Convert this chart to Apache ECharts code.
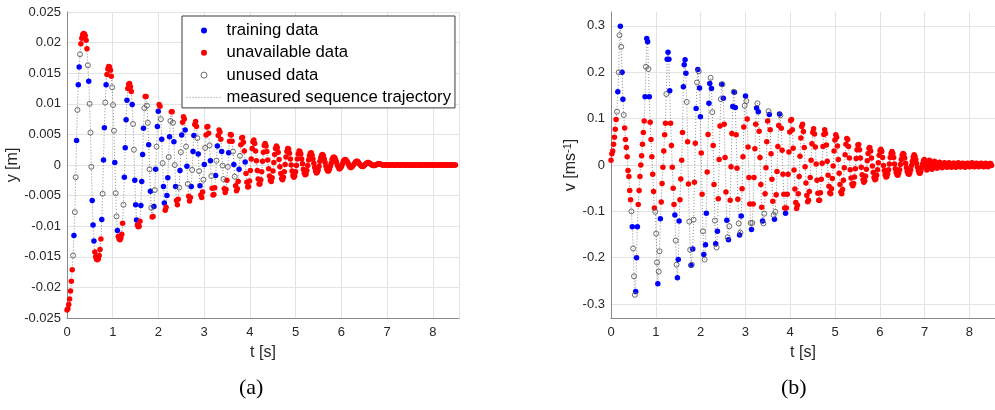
<!DOCTYPE html>
<html><head><meta charset="utf-8">
<script src="https://cdn.jsdelivr.net/npm/echarts@6/dist/echarts.min.js"></script>
<style>html,body{margin:0;padding:0;background:#fff;}#c{width:995px;height:410px;}</style>
</head><body><div id="c"></div>
<script>
// time stamps [s]
const t = [
0.000,0.019,0.038,0.057,0.076,0.095,0.114,0.133,0.152,0.171,
0.190,0.209,0.228,0.247,0.266,0.285,0.304,0.323,0.342,0.361,
0.380,0.399,0.418,0.437,0.456,0.475,0.494,0.513,0.532,0.551,
0.570,0.589,0.608,0.627,0.646,0.665,0.684,0.703,0.722,0.741,
0.760,0.779,0.798,0.817,0.836,0.855,0.874,0.893,0.912,0.931,
0.950,0.969,0.988,1.007,1.026,1.045,1.064,1.083,1.102,1.121,
1.140,1.159,1.178,1.197,1.216,1.235,1.254,1.273,1.292,1.311,
1.330,1.349,1.368,1.387,1.406,1.425,1.444,1.463,1.482,1.501,
1.520,1.539,1.558,1.577,1.596,1.615,1.634,1.653,1.672,1.691,
1.710,1.729,1.748,1.767,1.786,1.805,1.824,1.843,1.862,1.881,
1.900,1.919,1.938,1.957,1.976,1.995,2.014,2.033,2.052,2.071,
2.090,2.109,2.128,2.147,2.166,2.185,2.204,2.223,2.242,2.261,
2.280,2.299,2.318,2.337,2.356,2.375,2.394,2.413,2.432,2.451,
2.470,2.489,2.508,2.527,2.546,2.565,2.584,2.603,2.622,2.641,
2.660,2.679,2.698,2.717,2.736,2.755,2.774,2.793,2.812,2.831,
2.850,2.869,2.888,2.907,2.926,2.945,2.964,2.983,3.002,3.021,
3.040,3.059,3.078,3.097,3.116,3.135,3.154,3.173,3.192,3.211,
3.230,3.249,3.268,3.287,3.306,3.325,3.344,3.363,3.382,3.401,
3.420,3.439,3.458,3.477,3.496,3.515,3.534,3.553,3.572,3.591,
3.610,3.629,3.648,3.667,3.686,3.705,3.724,3.743,3.762,3.781,
3.800,3.819,3.838,3.857,3.876,3.895,3.914,3.933,3.952,3.971,
3.990,4.009,4.028,4.047,4.066,4.085,4.104,4.123,4.142,4.161,
4.180,4.199,4.218,4.237,4.256,4.275,4.294,4.313,4.332,4.351,
4.370,4.389,4.408,4.427,4.446,4.465,4.484,4.503,4.522,4.541,
4.560,4.579,4.598,4.617,4.636,4.655,4.674,4.693,4.712,4.731,
4.750,4.769,4.788,4.807,4.826,4.845,4.864,4.883,4.902,4.921,
4.940,4.959,4.978,4.997,5.016,5.035,5.054,5.073,5.092,5.111,
5.130,5.149,5.168,5.187,5.206,5.225,5.244,5.263,5.282,5.301,
5.320,5.339,5.358,5.377,5.396,5.415,5.434,5.453,5.472,5.491,
5.510,5.529,5.548,5.567,5.586,5.605,5.624,5.643,5.662,5.681,
5.700,5.719,5.738,5.757,5.776,5.795,5.814,5.833,5.852,5.871,
5.890,5.909,5.928,5.947,5.966,5.985,6.004,6.023,6.042,6.061,
6.080,6.099,6.118,6.137,6.156,6.175,6.194,6.213,6.232,6.251,
6.270,6.289,6.308,6.327,6.346,6.365,6.384,6.403,6.422,6.441,
6.460,6.479,6.498,6.517,6.536,6.555,6.574,6.593,6.612,6.631,
6.650,6.669,6.688,6.707,6.726,6.745,6.764,6.783,6.802,6.821,
6.840,6.859,6.878,6.897,6.916,6.935,6.954,6.973,6.992,7.011,
7.030,7.049,7.068,7.087,7.106,7.125,7.144,7.163,7.182,7.201,
7.220,7.239,7.258,7.277,7.296,7.315,7.334,7.353,7.372,7.391,
7.410,7.429,7.448,7.467,7.486,7.505,7.524,7.543,7.562,7.581,
7.600,7.619,7.638,7.657,7.676,7.695,7.714,7.733,7.752,7.771,
7.790,7.809,7.828,7.847,7.866,7.885,7.904,7.923,7.942,7.961,
7.980,7.999,8.018,8.037,8.056,8.075,8.094,8.113,8.132,8.151,
8.170,8.189,8.208,8.227,8.246,8.265,8.284,8.303,8.322,8.341,
8.360,8.379,8.398,8.417,8.436,8.455,8.474,8.493
];
// position y [m]
const yPos = [
-0.0237,-0.0235,-0.0228,-0.0219,-0.0206,-0.0190,-0.0171,-0.0148,-0.0115,-0.0077,
-0.0020,0.0040,0.0090,0.0131,0.0160,0.0181,0.0198,0.0207,0.0213,0.0215,
0.0214,0.0211,0.0204,0.0190,0.0163,0.0137,0.0100,0.0053,-0.0003,-0.0058,
-0.0098,-0.0124,-0.0142,-0.0150,-0.0154,-0.0155,-0.0153,-0.0148,-0.0138,-0.0121,
-0.0089,-0.0047,0.0008,0.0061,0.0102,0.0131,0.0148,0.0157,0.0161,0.0160,
0.0155,0.0145,0.0127,0.0098,0.0056,0.0004,-0.0046,-0.0084,-0.0107,-0.0117,
-0.0121,-0.0122,-0.0119,-0.0113,-0.0095,-0.0065,-0.0020,0.0028,0.0074,0.0106,
0.0125,0.0132,0.0133,0.0128,0.0120,0.0099,0.0067,0.0025,-0.0025,-0.0065,
-0.0090,-0.0098,-0.0101,-0.0100,-0.0092,-0.0066,-0.0027,0.0017,0.0060,0.0093,
0.0112,0.0112,0.0097,0.0069,0.0033,-0.0007,-0.0043,-0.0070,-0.0085,-0.0084,
-0.0068,-0.0041,-0.0007,0.0030,0.0063,0.0088,0.0099,0.0096,0.0075,0.0042,
0.0003,-0.0035,-0.0062,-0.0074,-0.0069,-0.0050,-0.0021,0.0013,0.0046,0.0072,
0.0087,0.0087,0.0069,0.0038,0.0000,-0.0035,-0.0058,-0.0065,-0.0056,-0.0037,
-0.0009,0.0021,0.0049,0.0070,0.0079,0.0075,0.0057,0.0030,-0.0002,-0.0031,
-0.0051,-0.0059,-0.0053,-0.0035,-0.0008,0.0022,0.0048,0.0066,0.0071,0.0063,
0.0044,0.0018,-0.0010,-0.0034,-0.0049,-0.0053,-0.0044,-0.0024,0.0001,0.0028,
0.0049,0.0062,0.0063,0.0052,0.0032,0.0007,-0.0018,-0.0038,-0.0049,-0.0048,
-0.0037,-0.0017,0.0007,0.0031,0.0048,0.0057,0.0054,0.0042,0.0022,-0.0001,
-0.0023,-0.0039,-0.0045,-0.0040,-0.0025,-0.0003,0.0020,0.0039,0.0050,0.0049,
0.0039,0.0022,0.0001,-0.0019,-0.0034,-0.0042,-0.0039,-0.0027,-0.0007,0.0015,
0.0033,0.0044,0.0045,0.0037,0.0023,0.0005,-0.0014,-0.0028,-0.0036,-0.0035,
-0.0026,-0.0009,0.0010,0.0027,0.0038,0.0041,0.0035,0.0023,0.0007,-0.0009,
-0.0023,-0.0031,-0.0031,-0.0024,-0.0011,0.0006,0.0021,0.0032,0.0035,0.0031,
0.0022,0.0008,-0.0006,-0.0018,-0.0025,-0.0027,-0.0021,-0.0010,0.0004,0.0017,
0.0027,0.0031,0.0028,0.0021,0.0009,-0.0003,-0.0014,-0.0022,-0.0024,-0.0020,
-0.0011,0.0001,0.0013,0.0022,0.0027,0.0026,0.0019,0.0010,0.0000,-0.0010,
-0.0017,-0.0020,-0.0018,-0.0011,-0.0001,0.0010,0.0018,0.0023,0.0022,0.0018,
0.0010,0.0002,-0.0007,-0.0013,-0.0016,-0.0015,-0.0009,-0.0001,0.0008,0.0015,
0.0019,0.0020,0.0016,0.0010,0.0003,-0.0004,-0.0010,-0.0013,-0.0012,-0.0008,
-0.0002,0.0006,0.0012,0.0016,0.0017,0.0015,0.0010,0.0004,-0.0002,-0.0007,
-0.0010,-0.0010,-0.0007,-0.0002,0.0003,0.0009,0.0012,0.0013,0.0012,0.0009,
0.0005,0.0000,-0.0003,-0.0006,-0.0006,-0.0004,-0.0002,0.0002,0.0006,0.0008,
0.0009,0.0008,0.0006,0.0004,0.0001,-0.0002,-0.0004,-0.0004,-0.0003,-0.0001,
0.0001,0.0003,0.0005,0.0006,0.0006,0.0005,0.0003,0.0001,-0.0001,-0.0002,
-0.00025,-0.0002,-0.0001,0.0001,0.0002,0.0003,0.0004,0.0004,0.0003,0.0002,
0.0001,0.0000,-0.0001,-0.0001,-0.0001,0.0000,0.0001,0.0001,0.0002,0.0002,
0.0002,0.0001,0.0001,0.0000,0.0000,0.0000,0.0000,0.00004,0.00006,0.00002,
-0.00003,-0.00005,-0.00002,0.00003,0.00005,0.00001,-0.00003,-0.00004,0.00000,0.00003,
0.00004,0.00001,-0.00002,-0.00004,-0.00001,0.00002,0.00004,0.00002,-0.00002,-0.00003,
0.00000,0.00003,0.00003,0.00000,-0.00003,-0.00003,0.00001,0.00003,0.00002,-0.00001,
-0.00003,-0.00001,0.00002,0.00003,0.00001,-0.00002,-0.00003,0.00000,0.00002,0.00002,
-0.00001,-0.00002,-0.00001,0.00001,0.00002,0.00001,-0.00001,-0.00002,0.00000,0.00002,
0.00001,-0.00001,-0.00002,0.00000,0.00002,0.00001,-0.00001,-0.00001,0.00001,0.00001,
0.00000,-0.00001,-0.00001,0.00001,0.00001,0.00000,-0.00001,0.00000,0.00001,0.00000,
-0.00001,0.00000,0.00001,0.00000,-0.00001,0.00000,0.00001,0.00000
];
// velocity v [m/s]
const vel = [
0.010,0.024,0.030,0.045,0.060,0.077,0.098,0.115,0.158,0.200,
0.280,0.299,0.255,0.200,0.142,0.108,0.080,0.055,0.038,0.018,
-0.012,-0.025,-0.055,-0.075,-0.100,-0.133,-0.180,-0.240,-0.280,-0.273,
-0.200,-0.133,-0.085,-0.055,-0.025,0.000,0.020,0.045,0.070,0.095,
0.147,0.212,0.273,0.266,0.207,0.147,0.092,0.055,0.018,-0.020,
-0.057,-0.093,-0.101,-0.148,-0.210,-0.256,-0.230,-0.186,-0.116,-0.080,
-0.040,-0.005,0.030,0.065,0.090,0.153,0.228,0.243,0.228,0.160,
0.090,0.042,-0.005,-0.050,-0.085,-0.108,-0.163,-0.215,-0.243,-0.204,
-0.121,-0.075,-0.030,0.010,0.070,0.169,0.216,0.227,0.198,0.136,
0.050,-0.041,-0.122,-0.183,-0.216,-0.215,-0.181,-0.118,-0.037,0.047,
0.122,0.178,0.206,0.202,0.166,0.104,0.026,-0.063,-0.143,-0.193,
-0.204,-0.172,-0.104,-0.015,0.066,0.133,0.176,0.188,0.165,0.114,
0.042,-0.042,-0.120,-0.170,-0.178,-0.143,-0.073,0.012,0.084,0.142,
0.174,0.174,0.144,0.088,0.016,-0.058,-0.119,-0.156,-0.161,-0.132,
-0.076,-0.004,0.068,0.126,0.158,0.157,0.124,0.065,-0.007,-0.074,
-0.126,-0.151,-0.146,-0.110,-0.051,0.018,0.082,0.128,0.149,0.138,
0.099,0.039,-0.027,-0.084,-0.125,-0.139,-0.125,-0.084,-0.027,0.035,
0.088,0.123,0.133,0.115,0.073,0.016,-0.042,-0.091,-0.121,-0.126,
-0.105,-0.062,-0.006,0.050,0.095,0.116,0.109,0.076,0.024,-0.031,
-0.078,-0.108,-0.117,-0.101,-0.064,-0.014,0.040,0.085,0.110,0.107,
0.079,0.032,-0.020,-0.063,-0.093,-0.104,-0.093,-0.063,-0.020,0.028,
0.071,0.096,0.098,0.076,0.036,-0.011,-0.052,-0.081,-0.094,-0.087,
-0.062,-0.025,0.019,0.058,0.083,0.088,0.072,0.038,-0.004,-0.039,
-0.066,-0.079,-0.076,-0.057,-0.027,0.010,0.046,0.070,0.078,0.067,
0.039,0.002,-0.033,-0.061,-0.076,-0.076,-0.060,-0.031,0.004,0.040,
0.066,0.076,0.068,0.043,0.008,-0.022,-0.046,-0.060,-0.062,-0.051,
-0.029,-0.002,0.030,0.054,0.065,0.060,0.041,0.012,-0.018,-0.042,
-0.058,-0.062,-0.053,-0.033,-0.006,0.022,0.045,0.057,0.055,0.040,
0.015,-0.010,-0.028,-0.041,-0.045,-0.040,-0.026,-0.008,0.014,0.033,
0.043,0.044,0.033,0.015,-0.005,-0.021,-0.032,-0.037,-0.034,-0.024,
-0.009,0.009,0.025,0.036,0.038,0.030,0.015,-0.002,-0.016,-0.027,
-0.032,-0.030,-0.022,-0.010,0.005,0.021,0.031,0.034,0.029,0.016,
-0.001,-0.012,-0.021,-0.026,-0.025,-0.019,-0.010,0.002,0.016,0.025,
0.029,0.025,0.016,0.002,-0.008,-0.016,-0.021,-0.022,-0.017,-0.010,
0.001,0.012,0.021,0.025,0.023,0.015,0.004,-0.006,-0.014,-0.019,
-0.020,-0.017,-0.010,-0.001,0.008,0.017,0.022,0.019,0.012,0.003,
-0.005,-0.012,-0.017,-0.018,-0.013,-0.006,0.002,0.009,0.012,0.006,
-0.004,-0.011,-0.008,0.003,0.010,0.007,-0.002,-0.009,-0.006,0.004,
0.008,0.003,-0.005,-0.007,-0.002,0.005,0.006,0.001,-0.004,-0.006,
-0.001,0.004,0.005,0.000,-0.004,-0.005,0.001,0.005,0.003,-0.003,
-0.005,-0.001,0.004,0.004,-0.002,-0.005,-0.002,0.003,0.005,0.001,
-0.004,-0.004,0.001,0.004,0.003,-0.002,-0.005,-0.001,0.003,0.004,
0.000,-0.004,-0.003,0.002,0.005,0.002,-0.003,-0.004,0.000,0.004,
0.003,-0.002,-0.004,-0.001,0.003,0.004,0.001,-0.003,-0.004,0.000,
0.004,0.002,-0.002,-0.004,-0.001,0.003,0.003,-0.001
];
// sample class: B = training, R = unavailable, O = unused (samples after the list are R)
const category = [
"RRRRRRR","OBOOBOBBO","RRRRRRRR","OBOOOBBB","RRRRRRRR","BOBBOB","RRRRRR","OOOBOOB",
"RRRRRR","OBBBB","RRRRR","BOOBBB","RRRR","BBBBO","RR","OOBOBO","RR","BOBOBB","RR",
"OBOBB","RR","BBOBO","RR","OBOB","RRR","OBOB","RRR","BOBO","RRR","BOBB","RRR","OBOB",
"RRR","OBO","RRRR","OBO","RRRR","BOB","RRRR","BOO","RRRR","OB","RRRR","OBO","RRRR",
"BO","RRRRR","B"
].join('');
const seriesNames = ['training data','unavailable data','unused data','measured sequence trajectory'];
const xTicks = [0,1,2,3,4,5,6,7,8];
const yTicksB = [-0.3,-0.2,-0.1,0,0.1,0.2,0.3];

const n = Math.min(t.length, yPos.length, vel.length);
function pairs(vals, code){
  const out = [];
  for (let i = 0; i < n; i++) {
    const c = category[i] || 'R';
    if (code === null || c === code) out.push([t[i], vals[i]]);
  }
  return out;
}

const FONT = 'Liberation Sans, Arial, Helvetica, sans-serif';
const axisLabelStyle = {color:'#262626', fontSize:13, fontFamily:FONT};
const splitLineStyle = {show:true, lineStyle:{color:'#e3e3e3', width:1}};
const axisLineStyle = {show:true, onZero:false, lineStyle:{color:'#8a8a8a', width:1}};
const openStyle = {color:'rgba(255,255,255,0)', borderColor:'#5a5a5a', borderWidth:0.9, opacity:1};

function panelSeries(vals, idx){
  return [
    {name:seriesNames[3], type:'line', xAxisIndex:idx, yAxisIndex:idx, data:pairs(vals,null),
     symbol:'none', symbolSize:0, showSymbol:false, silent:true, z:1, clip:true,
     lineStyle:{color:'#8c8c8c', width:1, type:[1,2]}, itemStyle:{color:'#8c8c8c'}},
    {name:seriesNames[0], type:'scatter', xAxisIndex:idx, yAxisIndex:idx, data:pairs(vals,'B'),
     symbol:'circle', symbolSize:5.5, z:3, itemStyle:{color:'#0000ff', opacity:1}},
    {name:seriesNames[1], type:'scatter', xAxisIndex:idx, yAxisIndex:idx, data:pairs(vals,'R'),
     symbol:'circle', symbolSize:5.5, z:3, itemStyle:{color:'#ff0000', opacity:1}},
    {name:seriesNames[2], type:'scatter', xAxisIndex:idx, yAxisIndex:idx, data:pairs(vals,'O'),
     symbol:'circle', symbolSize:5, z:3, itemStyle:openStyle}
  ];
}

const chart = echarts.init(document.getElementById('c'), null, {renderer:'canvas'});
chart.setOption({
  animation:false,
  backgroundColor:'#ffffff',
  textStyle:{fontFamily:FONT},
  grid:[
    {left:67, top:12, width:392, height:306, containLabel:false},
    {left:611, top:12, width:392, height:306, containLabel:false}
  ],
  xAxis:[
    {type:'value', gridIndex:0, min:0, max:8.57, interval:1,
     name:'t [s]', nameLocation:'middle', nameGap:27,
     nameTextStyle:{color:'#262626', fontSize:16, fontFamily:FONT},
     axisLine:axisLineStyle, axisTick:{show:false}, splitLine:splitLineStyle,
     axisLabel:Object.assign({margin:8, showMaxLabel:false,
       formatter:function(v){return xTicks.indexOf(v)>=0 ? String(v) : '';}}, axisLabelStyle)},
    {type:'value', gridIndex:1, min:0, max:8.57, interval:1,
     name:'t [s]', nameLocation:'middle', nameGap:27,
     nameTextStyle:{color:'#262626', fontSize:16, fontFamily:FONT},
     axisLine:axisLineStyle, axisTick:{show:false}, splitLine:splitLineStyle,
     axisLabel:Object.assign({margin:8, showMaxLabel:false,
       formatter:function(v){return xTicks.indexOf(v)>=0 ? String(v) : '';}}, axisLabelStyle)}
  ],
  yAxis:[
    {type:'value', gridIndex:0, min:-0.025, max:0.025, interval:0.005,
     name:'y [m]', nameLocation:'middle', nameGap:37, nameRotate:90,
     nameTextStyle:{color:'#262626', fontSize:16, fontFamily:FONT},
     axisLine:axisLineStyle, axisTick:{show:false}, splitLine:splitLineStyle,
     axisLabel:Object.assign({margin:6, formatter:function(v){return String(+v.toFixed(3));}}, axisLabelStyle)},
    {type:'value', gridIndex:1, min:-0.33, max:0.33,
     name:'{a|v [ms}{s|-1}{a|]}', nameLocation:'middle', nameGap:26, nameRotate:90,
     nameTextStyle:{color:'#262626', fontSize:16, fontFamily:FONT,
       rich:{a:{fontSize:16, color:'#262626', fontFamily:FONT},
             s:{fontSize:11, color:'#262626', fontFamily:FONT, verticalAlign:'top', padding:[0,0,6,0]}}},
     axisLine:axisLineStyle,
     axisTick:{show:false, customValues:yTicksB},
     splitLine:splitLineStyle,
     axisLabel:Object.assign({margin:6, customValues:yTicksB,
       formatter:function(v){return String(+(+v).toFixed(2));}}, axisLabelStyle)}
  ],
  legend:{
    left:182, top:16, orient:'vertical',
    backgroundColor:'#ffffff', borderColor:'#3a3a3a', borderWidth:1, borderRadius:0,
    padding:[6,4,2,4], itemWidth:35, itemHeight:6, itemGap:5.3,
    textStyle:{fontSize:16.7, color:'#000', fontFamily:FONT, lineHeight:17},
    selectedMode:false,
    data:[
      {name:seriesNames[0], icon:'circle'},
      {name:seriesNames[1], icon:'circle'},
      {name:seriesNames[2], icon:'circle', itemStyle:{color:'rgba(255,255,255,0)', borderColor:'#5a5a5a', borderWidth:0.9}},
      {name:seriesNames[3], itemStyle:{opacity:0}, lineStyle:{color:'#8c8c8c', width:1, type:[1,2], opacity:1}}
    ]
  },
  graphic:[
    {type:'text', left:239, top:377, style:{text:'(a)', font:'22px "Liberation Serif", "Times New Roman", serif', fill:'#000'}},
    {type:'text', left:781, top:377, style:{text:'(b)', font:'22px "Liberation Serif", "Times New Roman", serif', fill:'#000'}}
  ],
  series:[].concat(panelSeries(yPos,0), panelSeries(vel,1))
});
</script>
</body></html>
